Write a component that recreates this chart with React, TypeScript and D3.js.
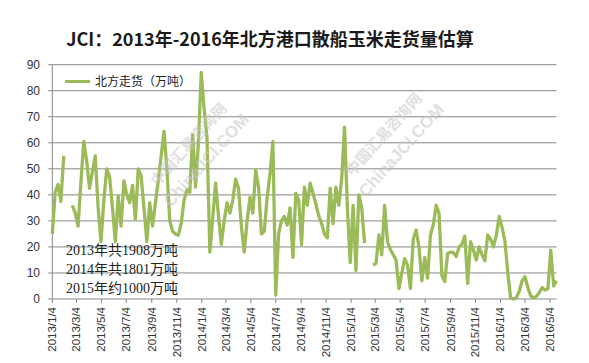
import React from "react";
import * as d3 from "d3";

// weekly figures, 10k tonnes, first week 2013/1/4 (null = no shipping data)
const firstWeek = new Date(2013, 0, 4);
const lastWeek = new Date(2016, 4, 20);
const weeklyVolume: (number | null)[] = [
  25, 41, 44, 37.5, 55, null, null, 36, 33, 28,
  45, 60.5, 53, 42.5, 49, 55, 35, 22, 38, 50,
  47, 35, 22, 39.6, 28, 45.4, 40, 37, 43.6, 30.6,
  50, 47.4, 35, 22, 37, 28, 37, 45.5, 55, 64.4,
  50, 30, 26, 25, 24.5, 29, 38, 42, 41, 63,
  43, 60, 87, 73, 62, 18, 31, 44.6, 32, 21,
  30, 37, 33, 38, 46, 42.5, 28, 18, 30, 39,
  33, 49.6, 43, 25, 26, 39, 48, 60.5, 1.5, 25,
  30, 31.7, 28.4, 35, 16, 40.6, 38, 21, 43, 36,
  44.5, 40.6, 36.5, 32, 29, 25, 23.5, 42.6, 29, 43,
  36, 46, 66, 35, 14, 36, 11, 40, 35, 21.5,
  null, null, 13, 13.7, 24.6, 17, 36, 22, 19, 17,
  15, 4, 10, 15.5, 13, 4, 23, 26.5, 20, 7,
  16, 8, 24.6, 28.5, 36, 33, 9, 6.7, 17.6, 18,
  17.8, 16.3, 20, 21, 24.2, 6, 22, 18.8, 15, 20,
  17, 14.7, 24.6, 23, 20, 24.6, 31.7, 27.4, 22.2, 10,
  0.3, 0, 0.5, 3, 7, 8.6, 4.4, 1.2, 0.4, 1,
  2.5, 4.4, 3.4, 4, 18.8, 5, 7,
];

const xTickLabels = [
  "2013/1/4", "2013/3/4", "2013/5/4", "2013/7/4", "2013/9/4", "2013/11/4",
  "2014/1/4", "2014/3/4", "2014/5/4", "2014/7/4", "2014/9/4", "2014/11/4",
  "2015/1/4", "2015/3/4", "2015/5/4", "2015/7/4", "2015/9/4", "2015/11/4",
  "2016/1/4", "2016/3/4", "2016/5/4",
];
const yTickValues = [0, 10, 20, 30, 40, 50, 60, 70, 80, 90];

const title = "JCI：2013年-2016年北方港口散船玉米走货量估算";
const seriesName = "北方走货（万吨）";
const notes = ["2013年共1908万吨", "2014年共1801万吨", "2015年约1000万吨"];

const GREEN = "#9bbb59";
const GRID = "#868686";

const parseLabel = (s: string) => {
  const [yy, mm, dd] = s.split("/").map(Number);
  return new Date(yy, mm - 1, dd);
};

export default function App() {
  const left = 52.3, right = 556.5, top = 64.7, bottom = 299;

  const x = d3.scaleTime().domain([firstWeek, lastWeek]).range([left, right]);
  const y = d3.scaleLinear().domain([0, 90]).range([bottom, top]);

  const points = weeklyVolume.map((v, i) => ({
    date: d3.timeDay.offset(firstWeek, 7 * i),
    v,
  }));

  const line = d3
    .line<{ date: Date; v: number | null }>()
    .defined((d) => d.v != null)
    .x((d) => x(d.date))
    .y((d) => y(d.v as number));

  const axisFont = "'Liberation Sans', Arial, sans-serif";

  // faint site watermark
  const marks = [
    { cx: 197, cy: 152 },
    { cx: 392, cy: 142 },
  ];

  return (
    <svg
      width={589}
      height={363}
      style={{ position: "absolute", left: 0, top: 0, background: "#fff" }}
    >
      <text
        x={270}
        y={46}
        textAnchor="middle"
        fontFamily="'Noto Sans CJK SC', sans-serif"
        fontWeight={700}
        fontSize={18}
        fill="#1a1a1a"
      >
        {title}
      </text>

      {/* grid + y axis */}
      {yTickValues.map((t) => (
        <g key={t}>
          <line x1={left} x2={right} y1={y(t)} y2={y(t)} stroke={GRID} strokeWidth={1} />
          <line x1={left - 4} x2={left} y1={y(t)} y2={y(t)} stroke={GRID} strokeWidth={1} />
          <text
            x={40}
            y={y(t)}
            dy="0.35em"
            textAnchor="end"
            fontFamily={axisFont}
            fontSize={12}
            fill="#333"
          >
            {t}
          </text>
        </g>
      ))}
      <line x1={left} x2={left} y1={top} y2={bottom} stroke={GRID} strokeWidth={1} />

      {/* x axis */}
      {xTickLabels.map((s) => {
        const tx = x(parseLabel(s));
        return (
          <g key={s}>
            <line x1={tx} x2={tx} y1={bottom} y2={bottom + 4} stroke={GRID} strokeWidth={1} />
            <text
              transform={`translate(${tx},${bottom + 8}) rotate(-90)`}
              dy="0.35em"
              textAnchor="end"
              fontFamily={axisFont}
              fontSize={11.5}
              fill="#333"
            >
              {s}
            </text>
          </g>
        );
      })}

      <path
        d={line(points) || ""}
        fill="none"
        stroke={GREEN}
        strokeWidth={3.3}
        strokeLinejoin="round"
      />

      {/* legend */}
      <line x1={65} x2={90} y1={81.5} y2={81.5} stroke={GREEN} strokeWidth={3} />
      <text
        x={95}
        y={81.5}
        dy="0.35em"
        fontFamily="'Noto Sans CJK SC', sans-serif"
        fontSize={12}
        fill="#222"
      >
        {seriesName}
      </text>

      {notes.map((n, i) => (
        <text
          key={n}
          x={66}
          y={255 + i * 19}
          fontFamily="'Liberation Serif', 'Noto Sans CJK SC', serif"
          fontSize={14}
          fill="#222"
        >
          {n}
        </text>
      ))}

      {marks.map((m, i) => (
        <g
          key={i}
          transform={`translate(${m.cx},${m.cy}) rotate(-48)`}
          fill="#c8c8c8"
          opacity={0.55}
          fontFamily="'Noto Sans CJK SC', sans-serif"
          fontWeight={700}
          textAnchor="middle"
        >
          <text y={-6} fontSize={15}>中国汇易咨询网</text>
          <text y={18} fontSize={17} fontFamily="'Liberation Sans', sans-serif">
            ChinaJCI.COM
          </text>
        </g>
      ))}
    </svg>
  );
}
